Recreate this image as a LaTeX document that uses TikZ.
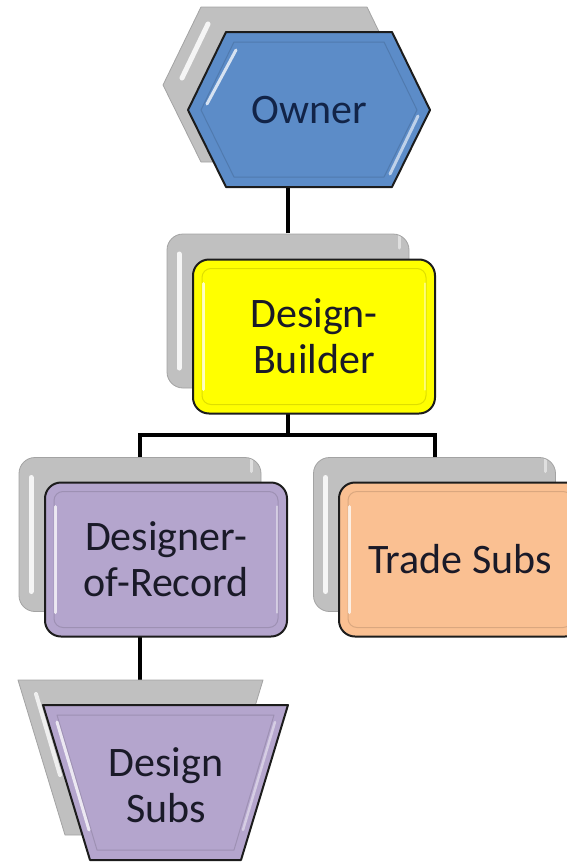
\documentclass[tikz,border=0pt]{standalone}
\usepackage{fontspec}
\setmainfont{Carlito}
\usetikzlibrary{calc}
\definecolor{ownerblue}{RGB}{92,140,200}
\definecolor{dbyellow}{RGB}{255,255,0}
\definecolor{lav}{RGB}{180,165,205}
\definecolor{peach}{RGB}{250,192,146}
\definecolor{shadowgrey}{RGB}{192,192,192}
\definecolor{edge}{RGB}{28,28,28}
\definecolor{txt}{RGB}{26,26,40}
\definecolor{navytxt}{RGB}{18,36,72}
\tikzset{
  lbl/.style={font=\fontsize{42}{46}\selectfont, text=txt, align=center, inner sep=0pt},
  anchorbox/.style={draw=none, fill=none, inner sep=0pt, minimum width=242pt, minimum height=155pt},
  bevelrect/.style={path picture={
    \draw[#1, line width=1pt, rounded corners=9pt, opacity=.45]
      ([shift={(9pt,-9pt)}]path picture bounding box.north west) rectangle
      ([shift={(-9pt,9pt)}]path picture bounding box.south east);
    \draw[white, line width=3pt, opacity=.75, line cap=round]
      ([shift={(10pt,-24pt)}]path picture bounding box.north west) --
      ([shift={(10pt,24pt)}]path picture bounding box.south west);
    \draw[white, line width=2.5pt, opacity=.45, line cap=round]
      ([shift={(-10pt,-24pt)}]path picture bounding box.north east) --
      ([shift={(-10pt,24pt)}]path picture bounding box.south east);
  }},
  shadowbevel/.style={path picture={
    \draw[white, line width=5pt, opacity=.85, line cap=round]
      ([shift={(12pt,-20pt)}]path picture bounding box.north west) --
      ([shift={(12pt,20pt)}]path picture bounding box.south west);
    \draw[white, line width=3pt, opacity=.5, line cap=round]
      ([shift={(-10pt,-14pt)}]path picture bounding box.north east) --
      ([shift={(-10pt,30pt)}]path picture bounding box.north east);
  }},
  shadowrect/.style={draw=shadowgrey!85!black, line width=.8pt, fill=shadowgrey,
    rounded corners=16pt, minimum width=242pt, minimum height=154pt, shadowbevel},
  frontrect/.style={draw=edge, line width=2pt, fill=#1, rounded corners=16pt,
    minimum width=242pt, minimum height=154pt, bevelrect=#1!72!black},
  link/.style={line width=4pt, draw=black},
  shadowpoly/.style={fill=shadowgrey, draw=shadowgrey!85!black, line width=.8pt, line join=round},
  frontpoly/.style={fill=#1, draw=edge, line width=2pt, line join=round},
  innerpoly/.style={draw=#1, line width=1pt, line join=round, opacity=.45},
  hilite/.style={draw=white, line width=3pt, opacity=.75, line cap=round},
}
\begin{document}
\begin{tikzpicture}[x=1pt,y=-1pt]
\useasboundingbox (0,0) rectangle (567,862);

% anchor nodes for the back (shadow) shapes
\node[anchorbox] (ownersh) at (284,84.5) {};
\node[anchorbox] (dssh) at (140.5,757.5) {};
\node[anchorbox] (dbsh) at (288,311) {};
\node[anchorbox] (dorsh) at (140,534.5) {};
\node[anchorbox] (tssh) at (434.5,534.5) {};

% connectors
\coordinate (bus) at (288,435);
\draw[link] (dbsh.north) -- (dbsh.north |- ownersh.south);
\draw[link] (dbsh.south) -- (bus);
\draw[link] (dorsh.north) |- (bus) -| (tssh.north);
\draw[link] (dorsh.south) -- (dorsh.south |- dssh.north);

% owner shadow hexagon
\path[shadowpoly] (163,85) -- (201,7) -- (367,7) -- (405,85) -- (367,162) -- (201,162) -- cycle;
\path[hilite, line width=5pt, opacity=.85] (208,24) -- (182,78);
% rounded-box shadows
\node[shadowrect] (dbback) at (dbsh) {};
\node[shadowrect] (dorback) at (dorsh) {};
\node[shadowrect] (tsback) at (tssh) {};
% design subs shadow trapezoid
\path[shadowpoly] (18,680) -- (263,680) -- (216,835) -- (65,835) -- cycle;
\path[hilite, line width=4pt] (36,694) -- (60,775);

% Owner front hexagon
\path[frontpoly=ownerblue] (188,110) -- (226,32) -- (392,32) -- (430,110) -- (392,187) -- (226,187) -- cycle;
\path[innerpoly=ownerblue!72!black] (201,110) -- (234,42) -- (384,42) -- (417,110) -- (384,177) -- (234,177) -- cycle;
\path[hilite] (236,50) -- (207,104);
\path[draw=ownerblue!40!white, line width=3pt, line cap=round] (418,116) -- (390,174);
\node[lbl, text=navytxt] (owner) at (309,110) {Owner};

% Design-Builder
\node[frontrect=dbyellow, lbl] (db) at (314,336.5) {Design-\\Builder};

% Designer-of-Record and Trade Subs
\node[frontrect=lav, lbl] (dor) at (166,559.5) {Designer-\\of-Record};
\node[frontrect=peach, lbl] (ts) at (460,559.5) {Trade Subs};

% Design Subs front trapezoid
\path[frontpoly=lav] (43,705) -- (288,705) -- (241,860) -- (90,860) -- cycle;
\path[innerpoly=lav!72!black] (57,715) -- (274,715) -- (234,850) -- (97,850) -- cycle;
\path[hilite] (57,722) -- (89,830);
\path[draw=white, opacity=.45, line width=2.5pt, line cap=round] (275,722) -- (243,830);
\node[lbl] (ds) at (166,785) {Design\\Subs};
\end{tikzpicture}
\end{document}
